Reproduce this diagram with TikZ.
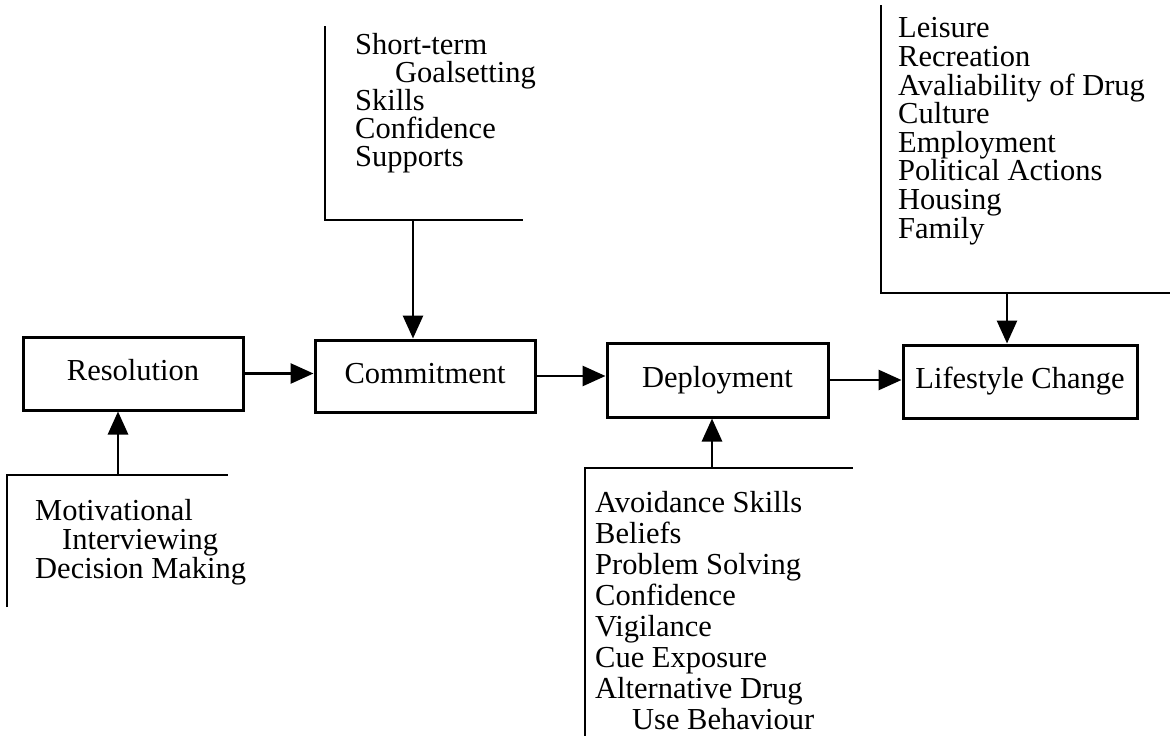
\documentclass[tikz,border=0pt]{standalone}
\usepackage{fontspec}
\setmainfont{Liberation Serif}
\usetikzlibrary{arrows.meta}
\begin{document}
\begin{tikzpicture}[x=1pt,y=-1pt,
  stagebox/.style={draw, line width=3pt, inner sep=0pt, text height=21pt, text depth=7pt, font=\fontsize{30.5}{30}\selectfont},
  conn/.style={line width=2.8pt},
  arr/.style={conn, -{Triangle[length=23pt,width=20pt]}},
  listtext/.style={anchor=base west, align=left, inner sep=0pt, font=\fontsize{30.5}{#1}\selectfont}]
\useasboundingbox (0,0) rectangle (1175,736);

% stage boxes
\node[stagebox, minimum width=220pt, minimum height=73pt] (res) at (133,373.5) {Resolution};
\node[stagebox, minimum width=220pt, minimum height=72pt] (com) at (425,376) {Commitment};
\node[stagebox, minimum width=221pt, minimum height=74pt] (dep) at (717.5,380) {Deployment};
\node[stagebox, minimum width=234pt, minimum height=73pt] (life) at (1020,381.5) {Lifestyle Change};

% flow arrows
\draw[arr] (res.east) -- (res.east -| com.west);
\draw[arr] (com.east) -- (com.east -| dep.west);
\draw[arr] (dep.east) -- (dep.east -| life.west);

% Commitment input bracket
\coordinate (comTop) at (325,26);
\coordinate (comCorner) at (325,220);
\coordinate (comEnd) at (523,220);
\coordinate (comArr) at (413,220);
\draw[conn] (comTop) -- (comCorner) -- (comEnd);
\draw[arr] (comArr) -- (comArr |- com.north);
\node[listtext=28] (comlist) at (355,166) {Short-term\\\hspace*{40pt}Goalsetting\\Skills\\Confidence\\Supports};

% Lifestyle input bracket
\coordinate (lifeTop) at (881,5);
\coordinate (lifeCorner) at (881,293);
\coordinate (lifeEnd) at (1170,293);
\coordinate (lifeArr) at (1007,293);
\draw[conn] (lifeTop) -- (lifeCorner) -- (lifeEnd);
\draw[arr] (lifeArr) -- (lifeArr |- life.north);
\node[listtext=28.6] (lifelist) at (898,238) {Leisure\\Recreation\\Avaliability of Drug\\Culture\\Employment\\Political Actions\\Housing\\Family};

% Resolution input bracket
\coordinate (resBottom) at (7,607);
\coordinate (resCorner) at (7,475);
\coordinate (resEnd) at (228,475);
\coordinate (resArr) at (118,475);
\draw[conn] (resBottom) -- (resCorner) -- (resEnd);
\draw[arr] (resArr) -- (resArr |- res.south);
\node[listtext=29] (reslist) at (35,578) {Motivational\\\hspace*{27pt}Interviewing\\Decision Making};

% Deployment input bracket
\coordinate (depBottom) at (585,736);
\coordinate (depCorner) at (585,468);
\coordinate (depEnd) at (853,468);
\coordinate (depArr) at (712,468);
\draw[conn] (depBottom) -- (depCorner) -- (depEnd);
\draw[arr] (depArr) -- (depArr |- dep.south);
\node[listtext=31] (deplist) at (595,729) {Avoidance Skills\\Beliefs\\Problem Solving\\Confidence\\Vigilance\\Cue Exposure\\Alternative Drug\\\hspace*{37pt}Use Behaviour};
\end{tikzpicture}
\end{document}
